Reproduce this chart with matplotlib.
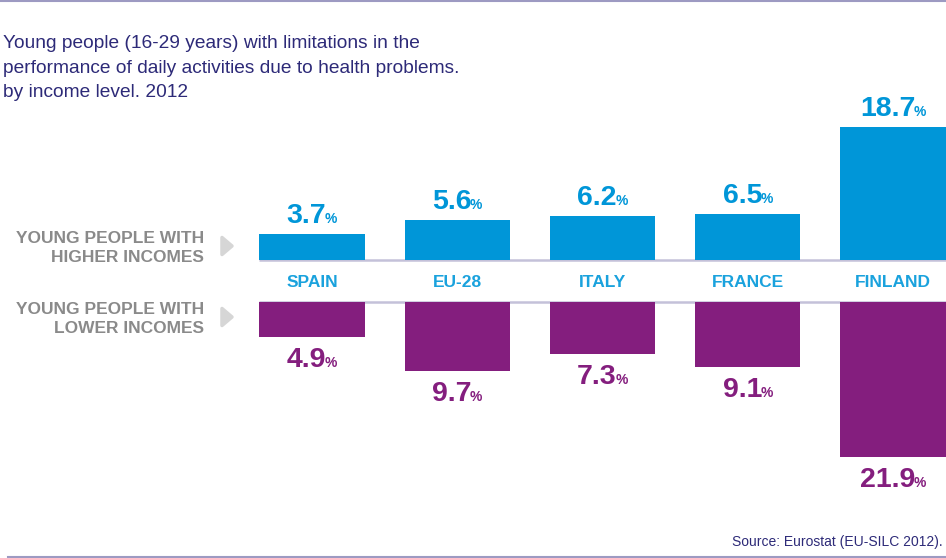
import matplotlib
matplotlib.use("Agg")
import matplotlib.pyplot as plt
from matplotlib.patches import Polygon
from matplotlib.transforms import offset_copy

# data
countries = ["SPAIN", "EU-28", "ITALY", "FRANCE", "FINLAND"]
higher = [3.7, 5.6, 6.2, 6.5, 18.7]
lower = [4.9, 9.7, 7.3, 9.1, 21.9]

BLUE = "#0096d8"
BLUE_TXT = "#1aa2dd"
PURPLE = "#841e7e"
NAVY = "#2d2a78"
GREY = "#8a8a8a"
LINE = "#c4c1d9"
RULE = "#9d9ac2"

W, H = 946, 558
PX = 7.1           # pixels per percentage point
MID = 281          # pixel row between the two baselines
GAP = 21 / PX      # half gap between the two baselines, in data units

fig = plt.figure(figsize=(W / 100, H / 100), dpi=100)
plt.rcParams["font.family"] = ["Liberation Sans", "DejaVu Sans"]
ax = fig.add_axes([0, 0, 1, 1])
ax.axis("off")
ax.set_xlim(-312 / 145.25, (W - 312) / 145.25)
ax.set_ylim(-(H - MID) / PX, MID / PX)

x = list(range(len(countries)))
bw = 0.723
ax.bar(x, higher, width=bw, bottom=GAP, color=BLUE, zorder=3)
ax.bar(x, [-v for v in lower], width=bw, bottom=-GAP, color=PURPLE, zorder=3)

# baselines
x0 = -bw / 2
ax.plot([x0, ax.get_xlim()[1]], [GAP, GAP], color=LINE, lw=1.8, zorder=2, solid_capstyle="butt")
ax.plot([x0, ax.get_xlim()[1]], [-GAP, -GAP], color=LINE, lw=1.8, zorder=2, solid_capstyle="butt")

def fy(py):
    return 1 - py / H

# top and bottom rules
fig.add_artist(plt.Line2D([0, 1], [fy(1), fy(1)], color=RULE, lw=1.5, transform=fig.transFigure))
fig.add_artist(plt.Line2D([8 / W, 1], [fy(557), fy(557)], color=RULE, lw=1.5, transform=fig.transFigure))

# value labels: big number + small percent sign, centred together
renderer = fig.canvas.get_renderer()
num_kw = dict(fontsize=20.5, fontweight="bold", va="baseline")
pct_kw = dict(fontsize=10, fontweight="bold", va="baseline")

def value_label(xi, yv, val, color, dy_px):
    t1 = ax.text(xi, yv, f"{val:.1f}", color=color, ha="left", **num_kw)
    t2 = ax.text(xi, yv, "%", color=color, ha="left", **pct_kw)
    w1 = t1.get_window_extent(renderer).width
    w2 = t2.get_window_extent(renderer).width
    sep = -1.5
    tot = w1 + sep + w2
    k = 72 / fig.dpi
    t1.set_transform(offset_copy(ax.transData, fig=fig, x=-tot / 2 * k, y=dy_px * k, units="points"))
    t2.set_transform(offset_copy(ax.transData, fig=fig, x=(-tot / 2 + w1 + sep) * k, y=dy_px * k, units="points"))

for xi, v in zip(x, higher):
    value_label(xi, GAP + v, v, BLUE, 11)
for xi, v in zip(x, lower):
    value_label(xi, -GAP - v, v, PURPLE, -30)

# country names between the baselines
for xi, c in zip(x, countries):
    ax.text(xi, (MID - 287) / PX, c, color=BLUE_TXT, fontsize=12.5, fontweight="bold",
            ha="center", va="baseline")

# title
title_lines = ["Young people (16-29 years) with limitations in the",
               "performance of daily activities due to health problems.",
               "by income level. 2012"]
for i, s in enumerate(title_lines):
    fig.text(3 / W, fy(48 + 24.7 * i), s, color=NAVY, fontsize=13.8, ha="left", va="baseline")

# row labels
row_labels = [("YOUNG PEOPLE WITH", 243), ("HIGHER INCOMES", 262),
              ("YOUNG PEOPLE WITH", 314), ("LOWER INCOMES", 333)]
for s, py in row_labels:
    fig.text(204 / W, fy(py), s, color=GREY, fontsize=12.5, fontweight="bold", ha="right", va="baseline")

# small grey arrows
for cy in (246, 317):
    tri = Polygon([(222 / W, fy(cy - 8.5)), (232 / W, fy(cy)), (222 / W, fy(cy + 8.5))],
                  closed=True, transform=fig.transFigure, facecolor="#d6d6d6",
                  edgecolor="#d6d6d6", lw=2.5, joinstyle="round")
    fig.add_artist(tri)

fig.text(943 / W, fy(546), "Source: Eurostat (EU-SILC 2012).", color=NAVY, fontsize=10,
         ha="right", va="baseline")

fig.savefig("out.png", dpi=100)
